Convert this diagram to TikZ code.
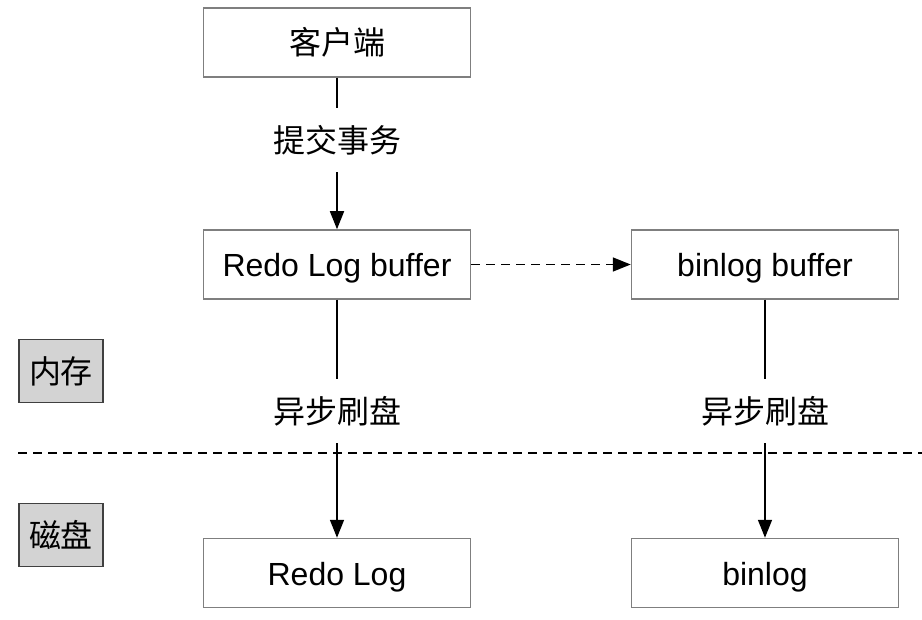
\documentclass[tikz,border=0pt]{standalone}
\usepackage{fontspec}
\setmainfont{Liberation Sans}
\newfontfamily\cjk{Noto Sans CJK SC}
\usetikzlibrary{arrows.meta,positioning}
\definecolor{boxline}{HTML}{7F7F7F}
\definecolor{tagfill}{HTML}{D3D3D3}

\begin{document}
\begin{tikzpicture}[
  x=1pt,
  y=-1pt,
  stage/.style={rectangle, draw=boxline, line width=1.5pt, fill=white, minimum width=267pt, minimum height=69pt, inner sep=0pt},
  latin/.style={text height=28pt, text depth=4pt},
  tag/.style={rectangle, draw=black!75, line width=1.5pt, fill=tagfill, minimum width=84pt, minimum height=63pt, inner sep=0pt},
  action/.style={minimum height=64pt, inner sep=0pt},
  link/.style={line width=1.6pt},
  flow/.style={link, -{Triangle[length=18pt,width=14pt]}},
  sync/.style={flow, dash pattern=on 9pt off 6pt},
  divide/.style={line width=1.5pt, dash pattern=on 9pt off 6pt},
  every node/.style={font=\fontsize{32}{38}\selectfont}
]
\useasboundingbox (0,0) rectangle (922,620);

% memory / disk split
\coordinate (divl) at (18,453);
\coordinate (divr) at (922,453);
\draw[divide] (divl) -- (divr);

\node[tag] (mem) at (61,371) {\cjk 内存};
\node[tag] (disk) at (61,535) {\cjk 磁盘};

% redo log path
\node[stage] (client) at (337,42.5) {\cjk 客户端};
\node[action] (commit) at (337,140) {\cjk 提交事务};
\node[stage, latin] (redobuf) at (337,264.5) {Redo Log buffer};
\node[action] (flushA) at (337,411) {\cjk 异步刷盘};
\node[stage, latin] (redolog) at (337,573) {Redo Log};
\draw[link] (client) -- (commit);
\draw[flow] (commit) -- (redobuf);
\draw[link] (redobuf) -- (flushA);
\draw[flow] (flushA) -- (redolog);

% binlog path
\node[stage, latin] (binbuf) at (765,264.5) {binlog buffer};
\node[action] (flushB) at (765,411) {\cjk 异步刷盘};
\node[stage, latin] (binlog) at (765,573) {binlog};
\draw[sync] (redobuf) -- (binbuf);
\draw[link] (binbuf) -- (flushB);
\draw[flow] (flushB) -- (binlog);
\end{tikzpicture}
\end{document}
